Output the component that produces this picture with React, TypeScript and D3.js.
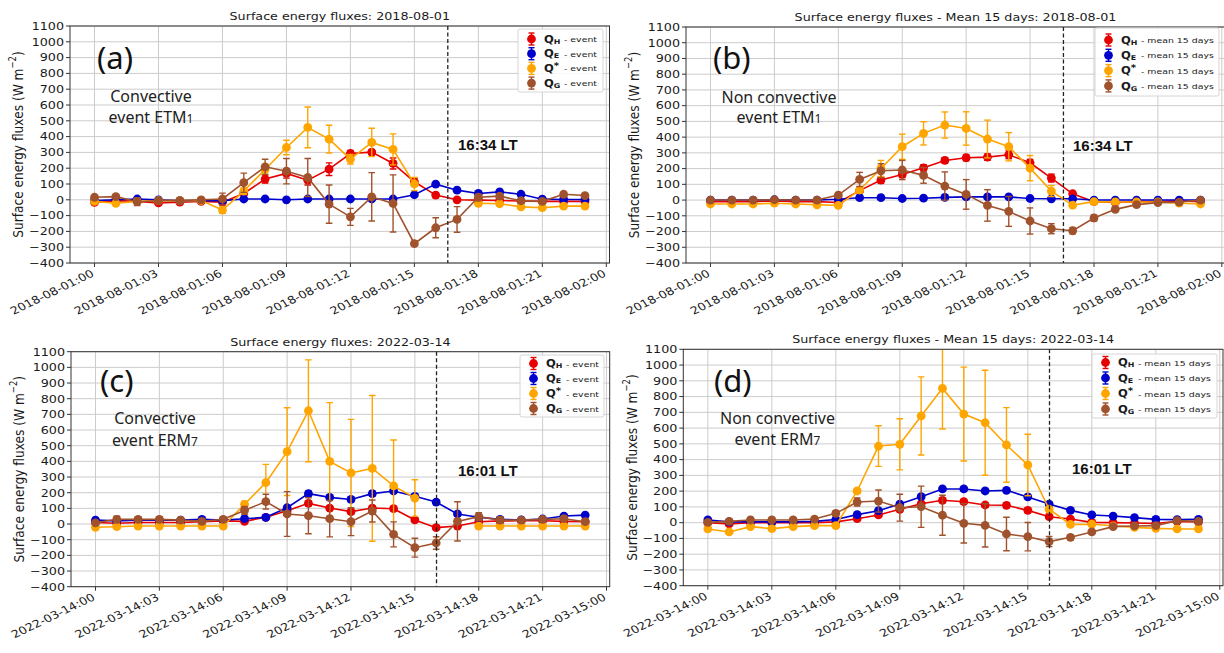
import React, { useRef, useEffect } from 'react';
import * as d3 from 'd3';

// the four matplotlib panels were pasted in a little stretched sideways
const SX = 1.2;
const MPL_FONT = '"DejaVu Sans", sans-serif';
const NOTE_FONT = '"Noto Sans", sans-serif';

// hour of the day for each point
const hours = [0, 1, 2, 3, 4, 5, 6, 7, 8, 9, 10, 11, 12, 13, 14, 15, 16, 17, 18, 19, 20, 21, 22, 23];
const yTicks = [-400, -300, -200, -100, 0, 100, 200, 300, 400, 500, 600, 700, 800, 900, 1000, 1100];

const seriesColors = ['#e60000', '#0000cd', '#ffa500', '#a0522d'];
const seriesSymbols = [
  { sub: 'H', sup: '' },
  { sub: 'E', sup: '' },
  { sub: '', sup: '*' },
  { sub: 'G', sup: '' },
];

// (a) convective event, 2018-08-01
const qhA = [-16, -5, -10, -20, -15, -10, -15, 40, 131, 167, 124, 194, 293, 302, 230, 114, 30, 0, -2, -4, -8, -10, -10, -10];
const qhAErr = [5, 5, 5, 5, 5, 5, 5, 10, 25, 30, 30, 40, 20, 15, 35, 25, 15, 10, 8, 8, 8, 5, 5, 5];
const qeA = [-5, 0, 5, 0, -5, -5, -5, 5, 5, 0, 5, 5, 5, 5, 5, 32, 99, 61, 40, 50, 35, 4, 2, 2];
const qeAErr = [4, 4, 4, 4, 4, 4, 4, 4, 4, 4, 4, 4, 4, 4, 4, 8, 8, 8, 6, 6, 6, 4, 4, 4];
const qsA = [-10, -22, -10, -5, -5, -5, -65, 55, 192, 331, 458, 384, 257, 363, 319, 100, null, null, -22, -25, -45, -50, -40, -40];
const qsAErr = [10, 10, 10, 10, 10, 10, 20, 20, 30, 46, 129, 88, 30, 90, 98, 42, 0, 0, 15, 15, 10, 10, 10, 10];
const qgA = [16, 20, -12, -5, -5, 0, 5, 108, 209, 181, 141, -27, -108, 19, -23, -278, -177, -124, 16, 23, -6, -10, 35, 27];
const qgAErr = [10, 10, 25, 10, 10, 10, 37, 61, 48, 80, 120, 121, 54, 153, 181, 10, 63, 81, 20, 15, 10, 10, 10, 10];

// (b) mean of 15 days, 2018-08-01
const qhB = [-10, -10, -10, -5, -10, -10, -15, 60, 127, 163, 205, 252, 269, 273, 288, 237, 140, 40, -10, -15, -10, -10, -5, -10];
const qhBErr = [5, 5, 5, 5, 5, 5, 8, 15, 20, 20, 20, 18, 20, 20, 25, 22, 25, 15, 10, 8, 8, 8, 8, 8];
const qeB = [0, 0, 0, 2, 0, 0, 5, 15, 15, 10, 12, 17, 20, 20, 20, 10, 8, 8, 0, 0, 0, 0, 0, 0];
const qeBErr = [4, 4, 4, 4, 4, 4, 4, 5, 5, 5, 5, 5, 5, 5, 5, 5, 5, 5, 4, 4, 4, 4, 4, 4];
const qsB = [-25, -25, -25, -20, -25, -30, -34, 64, 201, 339, 424, 477, 455, 388, 339, 203, 57, -32, -10, -12, -12, -12, -20, -25];
const qsBErr = [10, 10, 10, 10, 10, 10, 10, 20, 51, 80, 74, 83, 106, 120, 90, 80, 35, 10, 10, 10, 10, 10, 10, 10];
const qgB = [0, 0, 0, 2, 0, 0, 32, 131, 186, 191, 157, 89, 36, -34, -72, -133, -182, -195, -114, -59, -29, -16, -13, 0];
const qgBErr = [5, 5, 5, 5, 5, 5, 15, 45, 45, 61, 50, 90, 94, 100, 95, 83, 32, 20, 20, 10, 10, 8, 8, 8];

// (c) convective event, 2022-03-14
const qhC = [10, 5, 10, 10, 10, 15, 20, 17, 43, 85, 132, 102, 79, 102, 98, 26, -23, -13, 15, 20, 21, 21, 17, 15];
const qhCErr = [6, 6, 6, 6, 6, 6, 6, 10, 10, 12, 15, 15, 15, 15, 15, 15, 12, 10, 8, 8, 8, 6, 6, 6];
const qeC = [25, 20, 25, 25, 25, 30, 25, 34, 43, 104, 194, 170, 157, 194, 211, 177, 140, 64, 43, 30, 26, 32, 51, 57];
const qeCErr = [6, 6, 6, 6, 6, 6, 6, 8, 10, 15, 15, 15, 15, 15, 15, 15, 15, 10, 8, 6, 6, 6, 6, 6];
const qsC = [-21, -17, -13, -13, -13, -13, -13, 126, 264, 462, 723, 400, 326, 355, 243, 166, null, null, -13, -13, -13, -13, -13, -13];
const qsCErr = [10, 10, 10, 10, 10, 10, 10, 20, 117, 280, 325, 375, 342, 465, 293, 117, 0, 0, 10, 10, 10, 10, 10, 10];
const qgC = [8, 30, 30, 30, 25, 17, 30, 87, 143, 64, 53, 34, 15, 83, -66, -151, -121, 17, 47, 25, 25, 30, 34, 15];
const qgCErr = [10, 20, 15, 15, 15, 15, 15, 25, 47, 143, 115, 116, 89, 70, 80, 60, 40, 125, 25, 20, 15, 15, 15, 15];

// (d) mean of 15 days, 2022-03-14
const qhD = [0, -8, 0, 0, 0, 0, 5, 25, 49, 85, 120, 142, 133, 112, 110, 78, 38, 23, 2, 0, -2, -5, 8, 4];
const qhDErr = [6, 6, 6, 6, 6, 6, 6, 10, 12, 15, 15, 15, 15, 15, 15, 15, 12, 10, 8, 6, 6, 6, 6, 6];
const qeD = [17, 5, 5, 5, 5, 8, 20, 51, 76, 118, 165, 214, 214, 201, 205, 163, 118, 78, 49, 42, 32, 21, 19, 21];
const qeDErr = [6, 6, 6, 6, 6, 6, 6, 8, 10, 12, 12, 12, 12, 12, 12, 12, 10, 8, 8, 6, 6, 6, 6, 6];
const qsD = [-40, -59, -25, -38, -25, -19, -19, 201, 486, 497, 677, 852, 689, 634, 493, 366, 85, -11, -10, -20, -30, -36, -40, -40];
const qsDErr = [10, 10, 10, 10, 10, 10, 10, 15, 129, 162, 248, 258, 298, 333, 237, 195, 15, 10, 10, 10, 10, 10, 10, 10];
const qgD = [2, 8, 17, 17, 17, 23, 59, 131, 137, 95, 101, 47, -4, -17, -72, -89, -120, -93, -59, -25, -21, -19, 13, 8];
const qgDErr = [10, 10, 15, 15, 15, 15, 15, 25, 70, 85, 131, 127, 125, 137, 106, 90, 32, 15, 10, 10, 10, 10, 10, 10];

const panels = [
  {
    id: 'a', day: '2018-08-01', title: 'Surface energy fluxes: 2018-08-01', suffix: '- event', tag: '(a)',
    note: [['Convective', ''], ['event ETM', '1']], lt: '16:34 LT', ltHour: 16 + 34 / 60,
    values: [qhA, qeA, qsA, qgA], errors: [qhAErr, qeAErr, qsAErr, qgAErr],
    box: { l: 70, r: 609.5, t: 26, b: 263 },
    legend: { x: 518, y: 29, w: 85, h: 63, row0: 39, step: 14.7 },
    tagAt: [97, 69], noteAt: [151, 102, 20.7], ltAt: [458, 150],
  },
  {
    id: 'b', day: '2018-08-01', title: 'Surface energy fluxes - Mean 15 days: 2018-08-01', suffix: '- mean 15 days', tag: '(b)',
    note: [['Non convective', ''], ['event ETM', '1']], lt: '16:34 LT', ltHour: 16 + 34 / 60,
    values: [qhB, qeB, qsB, qgB], errors: [qhBErr, qeBErr, qsBErr, qgBErr],
    box: { l: 686, r: 1225, t: 27, b: 263 },
    legend: { x: 1095, y: 28, w: 124, h: 68, row0: 40, step: 15.3 },
    tagAt: [713, 69], noteAt: [779, 102.7, 20.3], ltAt: [1073, 150.7],
  },
  {
    id: 'c', day: '2022-03-14', title: 'Surface energy fluxes: 2022-03-14', suffix: '- event', tag: '(c)',
    note: [['Convective', ''], ['event ERM', '7']], lt: '16:01 LT', ltHour: 16 + 1 / 60,
    values: [qhC, qeC, qsC, qgC], errors: [qhCErr, qeCErr, qsCErr, qgCErr],
    box: { l: 71, r: 609.7, t: 351.7, b: 586.7 },
    legend: { x: 520, y: 355, w: 84, h: 62, row0: 363.5, step: 15 },
    tagAt: [100, 391.5], noteAt: [155, 424, 21.7], ltAt: [458, 476],
  },
  {
    id: 'd', day: '2022-03-14', title: 'Surface energy fluxes - Mean 15 days: 2022-03-14', suffix: '- mean 15 days', tag: '(d)',
    note: [['Non convective', ''], ['event ERM', '7']], lt: '16:01 LT', ltHour: 16 + 1 / 60,
    values: [qhD, qeD, qsD, qgD], errors: [qhDErr, qeDErr, qsDErr, qgDErr],
    box: { l: 683.3, r: 1223, t: 349.3, b: 585.7 },
    legend: { x: 1092, y: 354, w: 125, h: 64, row0: 362.5, step: 15.5 },
    tagAt: [714, 392], noteAt: [777.5, 424, 21], ltAt: [1072, 474],
  },
];

const HOUR = 3600 * 1000;

// text drawn the matplotlib way: DejaVu, stretched sideways like the panels
function mplText(g: any, x: number, y: number, size: number) {
  return g.append('text')
    .attr('transform', `translate(${x},${y}) scale(${SX},1)`)
    .style('font-family', MPL_FONT)
    .style('font-size', `${size}px`)
    .attr('fill', '#1a1a1a');
}

function drawPanel(svg: any, p: any) {
  const box = p.box;
  const g = svg.append('g');
  const t0 = new Date(p.day + 'T00:00:00Z').getTime();
  const times = hours.map((h) => new Date(t0 + h * HOUR));

  // x in real time, with matplotlib's 5% margin around the 23 hours of data
  const x = d3.scaleUtc()
    .domain([new Date(t0 - 1.15 * HOUR), new Date(t0 + 24.15 * HOUR)])
    .range([box.l, box.r]);
  const y = d3.scaleLinear().domain([-400, 1100]).range([box.b, box.t]);
  const xTicks = x.ticks(d3.utcHour.every(3) as any);
  const fmt = d3.utcFormat('%Y-%m-%d:%H');

  const clipId = `clip-${p.id}`;
  g.append('clipPath').attr('id', clipId)
    .append('rect')
    .attr('x', box.l).attr('y', box.t)
    .attr('width', box.r - box.l).attr('height', box.b - box.t);

  // grid
  g.append('g').selectAll('line').data(yTicks).join('line')
    .attr('x1', box.l).attr('x2', box.r)
    .attr('y1', (d: number) => y(d)).attr('y2', (d: number) => y(d))
    .attr('stroke', '#cccccc').attr('stroke-width', 1);
  g.append('g').selectAll('line').data(xTicks).join('line')
    .attr('x1', (d: Date) => x(d)).attr('x2', (d: Date) => x(d))
    .attr('y1', box.t).attr('y2', box.b)
    .attr('stroke', '#cccccc').attr('stroke-width', 1);

  // tick marks
  g.append('g').selectAll('line').data(yTicks).join('line')
    .attr('x1', box.l - 4).attr('x2', box.l)
    .attr('y1', (d: number) => y(d)).attr('y2', (d: number) => y(d))
    .attr('stroke', '#333').attr('stroke-width', 1);
  g.append('g').selectAll('line').data(xTicks).join('line')
    .attr('x1', (d: Date) => x(d)).attr('x2', (d: Date) => x(d))
    .attr('y1', box.b).attr('y2', box.b + 4)
    .attr('stroke', '#333').attr('stroke-width', 1);

  // tick labels
  yTicks.forEach((v) => {
    mplText(g, box.l - 6, y(v), 10.6)
      .attr('text-anchor', 'end')
      .attr('dy', '0.36em')
      .text(v < 0 ? `\u2212${Math.abs(v)}` : `${v}`);
  });
  xTicks.forEach((d: Date) => {
    g.append('text')
      .attr('transform', `translate(${x(d) - 4},${box.b + 6}) scale(${SX},1) rotate(-30)`)
      .attr('text-anchor', 'end')
      .attr('dy', '0.72em')
      .style('font-family', MPL_FONT)
      .style('font-size', '10.6px')
      .attr('fill', '#1a1a1a')
      .text(fmt(d));
  });

  // title
  mplText(g, (box.l + box.r) / 2, box.t - 6, 10.6)
    .attr('text-anchor', 'middle')
    .text(p.title);

  // y label
  const yl = g.append('text')
    .attr('transform', `translate(${box.l - 52},${(box.t + box.b) / 2}) scale(${SX},1) rotate(-90)`)
    .attr('text-anchor', 'middle')
    .attr('dominant-baseline', 'central')
    .style('font-family', MPL_FONT)
    .style('font-size', '12.2px')
    .attr('fill', '#1a1a1a');
  yl.append('tspan').text('Surface energy fluxes (W m');
  yl.append('tspan').attr('dy', -5).style('font-size', '8.5px').text('\u22122');
  yl.append('tspan').attr('dy', 5).text(')');

  // series
  const plot = g.append('g').attr('clip-path', `url(#${clipId})`);
  p.values.forEach((vals: (number | null)[], si: number) => {
    const errs: number[] = p.errors[si];
    const color = seriesColors[si];
    const pts = vals.map((v, i) => ({ t: times[i], v, e: errs[i] }));
    const ok = pts.filter((d) => d.v !== null) as { t: Date; v: number; e: number }[];

    const bars = plot.append('g').attr('stroke', color).attr('stroke-width', 1.4);
    bars.selectAll('line.bar').data(ok.filter((d) => d.e > 0)).join('line')
      .attr('x1', (d: any) => x(d.t)).attr('x2', (d: any) => x(d.t))
      .attr('y1', (d: any) => y(d.v - d.e)).attr('y2', (d: any) => y(d.v + d.e));
    [-1, 1].forEach((s) => {
      bars.append('g').selectAll('line').data(ok.filter((d) => d.e > 0)).join('line')
        .attr('x1', (d: any) => x(d.t) - 3.3).attr('x2', (d: any) => x(d.t) + 3.3)
        .attr('y1', (d: any) => y(d.v + s * d.e)).attr('y2', (d: any) => y(d.v + s * d.e));
    });

    const line = d3.line<{ t: Date; v: number | null }>()
      .defined((d) => d.v !== null)
      .x((d) => x(d.t))
      .y((d) => y(d.v as number));
    plot.append('path')
      .attr('fill', 'none')
      .attr('stroke', color)
      .attr('stroke-width', 1.6)
      .attr('d', line(pts));

    plot.append('g').selectAll('circle').data(ok).join('circle')
      .attr('cx', (d: any) => x(d.t))
      .attr('cy', (d: any) => y(d.v))
      .attr('r', 4.4)
      .attr('fill', color);
  });

  // time of the event
  const tl = new Date(t0 + p.ltHour * HOUR);
  g.append('line')
    .attr('x1', x(tl)).attr('x2', x(tl))
    .attr('y1', box.t).attr('y2', box.b)
    .attr('stroke', '#222').attr('stroke-width', 1.3)
    .attr('stroke-dasharray', '4,2.5');

  // frame
  g.append('rect')
    .attr('x', box.l).attr('y', box.t)
    .attr('width', box.r - box.l).attr('height', box.b - box.t)
    .attr('fill', 'none').attr('stroke', '#333').attr('stroke-width', 1);

  // legend
  const lg = p.legend;
  g.append('rect')
    .attr('x', lg.x).attr('y', lg.y).attr('width', lg.w).attr('height', lg.h)
    .attr('rx', 2)
    .attr('fill', '#fff').attr('fill-opacity', 0.85)
    .attr('stroke', '#d6d6d6').attr('stroke-width', 1);
  seriesColors.forEach((color, si) => {
    const cy = lg.row0 + si * lg.step;
    const mx = lg.x + 13.5;
    g.append('line').attr('x1', mx).attr('x2', mx).attr('y1', cy - 6).attr('y2', cy + 6)
      .attr('stroke', color).attr('stroke-width', 1.4);
    [-6, 6].forEach((o) => {
      g.append('line').attr('x1', mx - 3).attr('x2', mx + 3).attr('y1', cy + o).attr('y2', cy + o)
        .attr('stroke', color).attr('stroke-width', 1.4);
    });
    g.append('circle').attr('cx', mx).attr('cy', cy).attr('r', 4.4).attr('fill', color);

    const qx = lg.x + 26;
    const sym = seriesSymbols[si];
    const lab = mplText(g, qx, cy + 3.6, 9.6).style('font-weight', 'bold');
    lab.append('tspan').text('Q');
    if (sym.sub) lab.append('tspan').attr('dy', 1).style('font-size', '6.6px').text(sym.sub);
    if (sym.sup) lab.append('tspan').attr('dy', -3.5).style('font-size', '8.5px').text(sym.sup);
    mplText(g, qx + 20, cy + 3, 7.8).text(p.suffix);
  });

  // panel annotations added on top of the figure
  g.append('text')
    .attr('x', p.tagAt[0]).attr('y', p.tagAt[1])
    .style('font-family', NOTE_FONT)
    .style('font-size', '31px')
    .attr('fill', '#111')
    .text(p.tag);
  p.note.forEach((ln: string[], k: number) => {
    const t = g.append('text')
      .attr('x', p.noteAt[0]).attr('y', p.noteAt[1] + k * p.noteAt[2])
      .attr('text-anchor', 'middle')
      .style('font-family', NOTE_FONT)
      .style('font-size', '16px')
      .attr('fill', '#222');
    t.append('tspan').text(ln[0]);
    if (ln[1]) t.append('tspan').style('font-size', '12px').text(ln[1]);
  });
  g.append('text')
    .attr('x', p.ltAt[0]).attr('y', p.ltAt[1])
    .style('font-family', '"Liberation Sans", Arial, sans-serif')
    .style('font-size', '15px')
    .style('font-weight', 'bold')
    .attr('fill', '#111')
    .text(p.lt);
}

const App = () => {
  const ref = useRef<SVGSVGElement>(null);

  useEffect(() => {
    const svg = d3.select(ref.current);
    svg.selectAll('*').remove();
    svg.append('rect').attr('width', 1224).attr('height', 653).attr('fill', '#fff');
    panels.forEach((p) => drawPanel(svg, p));
  }, []);

  return (
    <svg
      ref={ref}
      width={1224}
      height={653}
      style={{ position: 'absolute', left: 0, top: 0, display: 'block' }}
    />
  );
};

export default App;
